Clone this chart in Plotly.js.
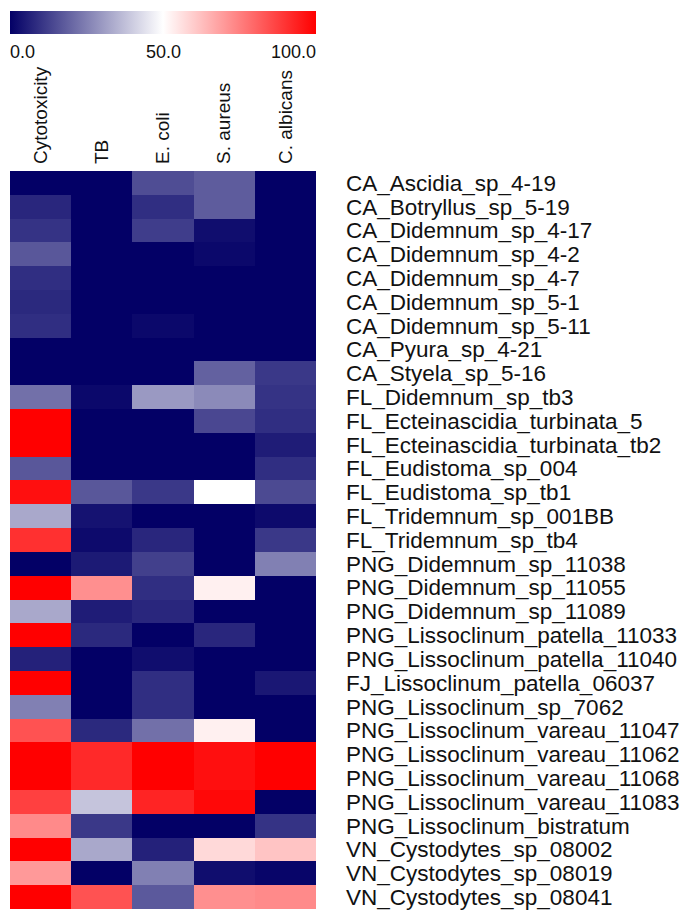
<!DOCTYPE html>
<html>
<head>
<meta charset="utf-8">
<script src="https://cdn.plot.ly/plotly-3.0.1.min.js"></script>
<style>
  html, body { margin: 0; padding: 0; background: #ffffff; }
  #chart { width: 684px; height: 912px; }
</style>
</head>
<body>
<div id="chart"></div>
<script>
// Assays (columns) and samples (rows, top to bottom)
const assays = ["Cytotoxicity", "TB", "E. coli", "S. aureus", "C. albicans"];
const samples = [
  "CA_Ascidia_sp_4-19",
  "CA_Botryllus_sp_5-19",
  "CA_Didemnum_sp_4-17",
  "CA_Didemnum_sp_4-2",
  "CA_Didemnum_sp_4-7",
  "CA_Didemnum_sp_5-1",
  "CA_Didemnum_sp_5-11",
  "CA_Pyura_sp_4-21",
  "CA_Styela_sp_5-16",
  "FL_Didemnum_sp_tb3",
  "FL_Ecteinascidia_turbinata_5",
  "FL_Ecteinascidia_turbinata_tb2",
  "FL_Eudistoma_sp_004",
  "FL_Eudistoma_sp_tb1",
  "FL_Tridemnum_sp_001BB",
  "FL_Tridemnum_sp_tb4",
  "PNG_Didemnum_sp_11038",
  "PNG_Didemnum_sp_11055",
  "PNG_Didemnum_sp_11089",
  "PNG_Lissoclinum_patella_11033",
  "PNG_Lissoclinum_patella_11040",
  "FJ_Lissoclinum_patella_06037",
  "PNG_Lissoclinum_sp_7062",
  "PNG_Lissoclinum_vareau_11047",
  "PNG_Lissoclinum_vareau_11062",
  "PNG_Lissoclinum_vareau_11068",
  "PNG_Lissoclinum_vareau_11083",
  "PNG_Lissoclinum_bistratum",
  "VN_Cystodytes_sp_08002",
  "VN_Cystodytes_sp_08019",
  "VN_Cystodytes_sp_08041"
];

// Activity (%) per assay, one value per sample in the order above
const cytotoxicity = [0, 7.5, 10, 17, 9, 8, 9, 0, 0, 22, 100, 100, 17, 97, 33, 90.5,
  0, 100, 33, 100, 6.5, 100, 25, 84, 100, 100, 87.5, 73, 100, 70, 100];
const tb = [0, 0, 0, 0, 0, 0, 0, 0, 0, 1.5, 0, 0, 0, 17, 3.5, 2,
  5, 72, 5.5, 8, 0, 0, 0, 8, 92, 92, 38.5, 11, 33, 0, 84];
const ecoli = [15, 9, 12, 0, 0, 0, 1.5, 0, 0, 30, 0, 0, 0, 11, 0, 7.5,
  12.5, 9, 7.5, 0, 2.5, 9, 9, 22, 100, 100, 93, 0, 6.5, 25, 17.5];
const saureus = [18, 18, 2.5, 1.5, 0, 0, 0, 0, 19, 27, 14, 0, 0, 50, 0, 0,
  0, 53, 0, 7.5, 0, 0, 0, 53, 97, 97, 98.5, 0, 57.5, 2.5, 72];
const calbicans = [0, 0, 0, 0, 0, 0, 0, 0, 11, 10, 9, 5.5, 9, 14.5, 2, 11,
  25, 0, 0, 0, 0, 4.5, 0, 0, 100, 100, 0, 10, 61.5, 1, 73];

// Colour bar tick positions and their printed text
const cbTickVals = [0, 50, 100];
const cbTickText = ["0.0", "50.0", "100.0"];

const columns = [cytotoxicity, tb, ecoli, saureus, calbicans];
const z = samples.map((_, r) => columns.map(col => col[r]));

const font = "Liberation Sans, Arial, sans-serif";

const trace = {
  type: "heatmap",
  x: assays,
  y: samples,
  z: z,
  zmin: 0,
  zmax: 100,
  colorscale: [[0, "rgb(3,0,102)"], [0.5, "rgb(255,255,255)"], [1, "rgb(255,0,0)"]],
  colorbar: {
    orientation: "h",
    x: 0, xanchor: "left", xpad: 0,
    y: 1.2168, yanchor: "top", ypad: 0,
    yref: "paper",
    len: 306, lenmode: "pixels",
    thickness: 23, thicknessmode: "pixels",
    outlinewidth: 0,
    tickvals: cbTickVals,
    showticklabels: false,
    ticks: ""
  }
};

// Tick labels under the colour bar: first flush left, middle centred, last flush right
const anchors = ["left", "center", "right"];
const annotations = cbTickVals.map((v, i) => ({
  xref: "paper", yref: "paper",
  x: v / 100, y: 1.1775,
  xanchor: anchors[i], yanchor: "top",
  xshift: i === 0 ? -2 : (i === 2 ? 2 : 0),
  text: cbTickText[i],
  showarrow: false,
  font: { family: font, size: 18, color: "#111111" }
}));

const layout = {
  width: 684,
  height: 912,
  margin: { l: 10, r: 368, t: 171, b: 3, pad: 0 },
  paper_bgcolor: "#ffffff",
  plot_bgcolor: "#ffffff",
  font: { family: font, color: "#111111" },
  xaxis: {
    side: "top",
    type: "category",
    tickmode: "array",
    tickvals: assays,
    tickangle: -90,
    tickfont: { family: font, size: 19, color: "#111111" },
    ticks: "",
    ticklabelstandoff: 6,
    showgrid: false,
    zeroline: false,
    showline: false
  },
  yaxis: {
    side: "right",
    type: "category",
    autorange: "reversed",
    tickmode: "array",
    tickvals: samples,
    tickfont: { family: font, size: 22.5, color: "#111111" },
    ticks: "",
    ticklabelstandoff: 29,
    showgrid: false,
    zeroline: false,
    showline: false
  },
  annotations: annotations
};

Plotly.newPlot("chart", [trace], layout, { displayModeBar: false, staticPlot: true });
</script>
</body>
</html>
